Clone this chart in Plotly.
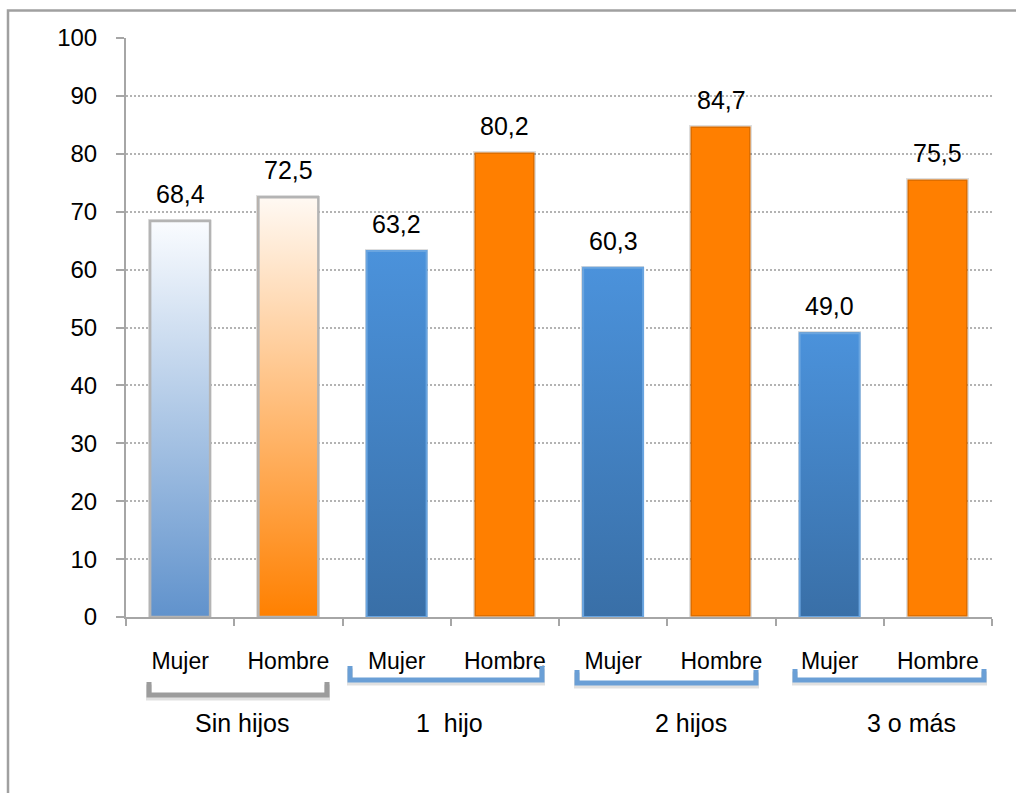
import plotly.graph_objects as go

# ---- data -------------------------------------------------------------
groups = ["Sin hijos", "1\u00a0 hijo", "2 hijos", "3 o más"]
sexes = ["Mujer", "Hombre"]
mujer = [68.4, 63.2, 60.3, 49.0]
hombre = [72.5, 80.2, 84.7, 75.5]
y_ticks = [0, 10, 20, 30, 40, 50, 60, 70, 80, 90, 100]

# ---- geometry / style constants ----------------------------------------
W, H = 1016, 793
M_L, M_R, M_T, M_B = 126, 24, 38, 176
PLOT_W = W - M_L - M_R
PLOT_H = H - M_T - M_B
BAR_W = 0.554
FONT = "Liberation Sans, Arial, Helvetica, sans-serif"
AXIS_GREY = "#A6A6A6"


def px_x(px):
    return (px - M_L) / PLOT_W


def px_y(py):
    return (H - M_B - py) / PLOT_H


# interleave Mujer / Hombre per group
values, labels, sex_of = [], [], []
for m, h in zip(mujer, hombre):
    values += [m, h]
    labels += sexes
    sex_of += ["M", "H"]
x_pos = list(range(len(values)))

# per-bar fill styles: (bottom colour, top colour, border colour, border width)
first_group_style = {
    "M": ("rgb(96,146,204)", "rgb(250,252,255)", "#B4B4B4", 2.5),
    "H": ("rgb(255,128,0)", "rgb(255,249,243)", "#B4B4B4", 2.5),
}
blue_style = ("rgb(57,111,167)", "rgb(75,146,219)", "#6AA5E0", 2)
ORANGE = "#FF7F00"

fig = go.Figure()

# base bars (solid colour; soft grey edge acts as drop shadow)
bar_colors = []
for i, s in enumerate(sex_of):
    if i < 2:
        bar_colors.append(first_group_style[s][0])
    elif s == "M":
        bar_colors.append(blue_style[0])
    else:
        bar_colors.append(ORANGE)

fig.add_trace(go.Bar(
    x=x_pos, y=values, width=BAR_W,
    marker=dict(color=bar_colors, line=dict(color="rgba(0,0,0,0.13)", width=3)),
    showlegend=False, hoverinfo="skip",
))

# gradient overlays for the bars that fade vertically
for i, (v, s) in enumerate(zip(values, sex_of)):
    if i < 2:
        bottom, top, edge, ew = first_group_style[s]
    elif s == "M":
        bottom, top, edge, ew = blue_style
    else:
        continue
    x0, x1 = i - BAR_W / 2, i + BAR_W / 2
    fig.add_trace(go.Scatter(
        x=[x0, x0, x1, x1, x0], y=[0, v, v, 0, 0],
        mode="lines", fill="toself",
        fillgradient=dict(type="vertical", colorscale=[[0, bottom], [1, top]],
                          start=0, stop=v),
        line=dict(color=edge, width=ew),
        showlegend=False, hoverinfo="skip",
    ))

# value labels above the bars
annotations = []
for i, v in enumerate(values):
    annotations.append(dict(
        x=i, y=v, xref="x", yref="y", text=f"{v:.1f}".replace(".", ","),
        showarrow=False, yanchor="bottom", yshift=11,
        font=dict(family=FONT, size=25, color="#000000"),
    ))

# group labels under the brackets
group_label_px = [242, 449, 691, 911]
for g, cx in zip(groups, group_label_px):
    annotations.append(dict(
        x=px_x(cx), y=px_y(723), xref="paper", yref="paper", text=g,
        showarrow=False, xanchor="center", yanchor="middle",
        font=dict(family=FONT, size=25, color="#000000"),
    ))

# brackets grouping each Mujer/Hombre pair: (left, right, top, bottom) in px
brackets = [
    (149, 327, 682, 695, "#9C9C9C"),
    (350, 542, 666, 680, "#6A9FD6"),
    (577, 756, 670, 683, "#6A9FD6"),
    (795, 984, 669, 680, "#6A9FD6"),
]
shapes = []
for l, r, t, b, col in brackets:
    for dy, c, w in ((2.5, "rgba(0,0,0,0.12)", 6), (0, col, 5)):
        path = (f"M {px_x(l)},{px_y(t + dy)} L {px_x(l)},{px_y(b + dy)} "
                f"L {px_x(r)},{px_y(b + dy)} L {px_x(r)},{px_y(t + dy)}")
        shapes.append(dict(type="path", xref="paper", yref="paper", path=path,
                           line=dict(color=c, width=w), layer="above"))

# outer chart frame (runs off the right and bottom edges)
shapes.append(dict(type="rect", xref="paper", yref="paper",
                   x0=px_x(8), x1=px_x(W + 10), y0=px_y(H + 10), y1=px_y(10.5),
                   line=dict(color="#A0A0A0", width=2.5), layer="below"))

boundaries = [i - 0.5 for i in range(len(values) + 1)]

fig.update_layout(
    width=W, height=H,
    margin=dict(l=M_L, r=M_R, t=M_T, b=M_B),
    paper_bgcolor="white", plot_bgcolor="white",
    font=dict(family=FONT, color="#000000"),
    annotations=annotations, shapes=shapes,
    bargap=0,
    xaxis=dict(
        range=[-0.5, len(values) - 0.5], tickmode="array", tickvals=x_pos,
        ticktext=labels, ticks="", showgrid=False, zeroline=False,
        showline=True, linecolor=AXIS_GREY, linewidth=2,
        tickfont=dict(size=23), ticklabelstandoff=22,
        minor=dict(tickmode="array", tickvals=boundaries, ticks="outside",
                   ticklen=7, tickwidth=2, tickcolor=AXIS_GREY, showgrid=False),
        fixedrange=True,
    ),
    yaxis=dict(
        range=[0, 100], tickmode="array", tickvals=y_ticks,
        ticks="outside", ticklen=8, tickwidth=2, tickcolor=AXIS_GREY,
        showline=True, linecolor=AXIS_GREY, linewidth=2,
        showgrid=True, gridcolor="#B3B3B3", gridwidth=2, griddash="2px,2px",
        zeroline=False, tickfont=dict(size=24), ticklabelstandoff=14,
        fixedrange=True,
    ),
)

fig.write_html("out.html")
